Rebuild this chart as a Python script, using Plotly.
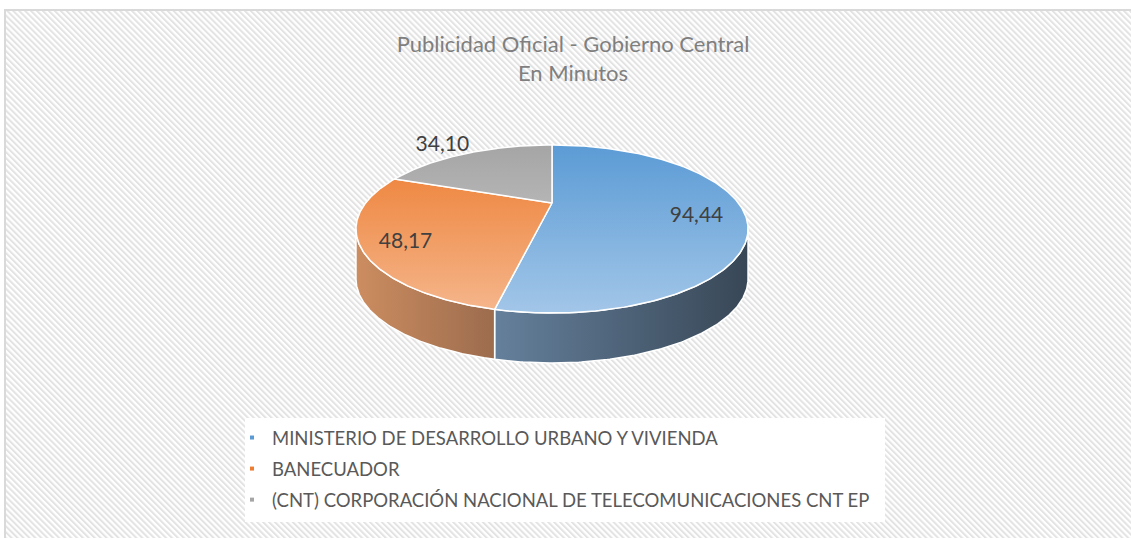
import base64
import numpy as np
import plotly.graph_objects as go

# ---- data ----
categories = [
    "MINISTERIO DE DESARROLLO URBANO Y VIVIENDA",
    "BANECUADOR",
    "(CNT) CORPORACIÓN NACIONAL DE TELECOMUNICACIONES CNT EP",
]
values = [94.44, 48.17, 34.10]
value_labels = ["94,44", "48,17", "34,10"]

# ---- style (3-D pie geometry with perspective) ----
W, H = 1131, 538
CX, CY = 552, 203          # projected pie centre (apex)
A, B, K = 186.4, 75.96, 0.3096   # half-axes and perspective strength
DEPTH = 50
top_dark = ["#5b9bd5", "#ed7d31", "#a5a5a5"]
top_light = ["#a2c6e8", "#f5b68c", "#d2d2d2"]
side_left = ["#65809c", "#cc8d60", "#8a8a8a"]
side_right = ["#384756", "#9c6c4e", "#6a6a6a"]
legend_colors = ["#5b9bd5", "#ed7d31", "#a5a5a5"]
label_factor = [0.76, 0.79, 1.4]
label_shift = 7


def proj(theta_deg, r=1.0, dy=0.0):
    t = np.radians(theta_deg)
    u, v = r * np.sin(t), r * np.cos(t)
    d = 1 + K * v
    return CX + A * u / d, CY - B * v / d + dy


total = sum(values)
spans = [v / total * 360 for v in values]
starts = np.concatenate([[0], np.cumsum(spans)[:-1]])
sil = np.degrees(np.arccos(-K))          # silhouette angle (right side)
vis_lo, vis_hi = sil, 360 - sil

top_y = proj(0.0)[1]
bot_y = proj(180.0)[1]

fig = go.Figure()

# sides (front visible part between silhouette points)
for i, (s, sp) in enumerate(zip(starts, spans)):
    a, b = max(s, vis_lo), min(s + sp, vis_hi)
    if b <= a:
        continue
    th = np.linspace(a, b, 150)
    xt, yt = proj(th)
    xb, yb = proj(th[::-1], dy=DEPTH)
    xs = np.concatenate([xt, xb, xt[:1]])
    ys = np.concatenate([yt, yb, yt[:1]])
    fig.add_trace(go.Scatter(
        x=xs, y=ys, mode="lines", fill="toself",
        line=dict(color="white", width=1.5),
        fillgradient=dict(type="horizontal",
                          colorscale=[[0, side_left[i]], [1, side_right[i]]]),
        hoverinfo="skip", showlegend=False))

# tops
for i, (s, sp) in enumerate(zip(starts, spans)):
    th = np.linspace(s, s + sp, 240)
    xt, yt = proj(th)
    xs = np.concatenate([[CX], xt, [CX]])
    ys = np.concatenate([[CY], yt, [CY]])
    fig.add_trace(go.Scatter(
        x=xs, y=ys, mode="lines", fill="toself",
        line=dict(color="white", width=1.5),
        fillgradient=dict(type="vertical", start=top_y, stop=bot_y,
                          colorscale=[[0, top_dark[i]], [1, top_light[i]]]),
        hoverinfo="skip", showlegend=False))

# data labels
lx, ly = [], []
for i, (s, sp) in enumerate(zip(starts, spans)):
    x, y = proj(s + sp / 2, r=label_factor[i], dy=label_shift)
    lx.append(x)
    ly.append(y)
fig.add_trace(go.Scatter(
    x=lx, y=ly, mode="text", text=value_labels,
    textfont=dict(family="Lato", size=21, color="#404040"),
    hoverinfo="skip", showlegend=False))

# legend entries
for i, name in enumerate(categories):
    fig.add_trace(go.Scatter(
        x=[None], y=[None], mode="markers", name=name,
        legendgroup=str(i),
        marker=dict(symbol="square", size=4, color=legend_colors[i])))

# hatched background
svg = (
    f'<svg xmlns="http://www.w3.org/2000/svg" width="{W}" height="{H}">'
    '<defs><pattern id="p" width="4.2" height="4.2" patternUnits="userSpaceOnUse" '
    'patternTransform="rotate(-45)">'
    '<rect width="4.2" height="4.2" fill="#ffffff"/>'
    '<rect width="2" height="4.2" fill="#e3e3e3"/>'
    '</pattern></defs>'
    f'<rect width="{W}" height="{H}" fill="url(#p)"/></svg>'
)
src = "data:image/svg+xml;base64," + base64.b64encode(svg.encode()).decode()

fig.update_layout(
    width=W, height=H,
    margin=dict(l=0, r=0, t=0, b=0),
    paper_bgcolor="white", plot_bgcolor="rgba(0,0,0,0)",
    xaxis=dict(range=[0, W], visible=False, fixedrange=True),
    yaxis=dict(range=[H, 0], visible=False, fixedrange=True),
    images=[dict(source=src, xref="paper", yref="paper",
                 x=5 / W, y=1 - 10 / H, sizex=1, sizey=1,
                 xanchor="left", yanchor="top", sizing="stretch",
                 layer="below")],
    shapes=[
        dict(type="rect", xref="paper", yref="paper",
             x0=5 / W, x1=1.02, y0=-0.05, y1=1 - 10 / H,
             line=dict(color="#d9d9d9", width=2), layer="below"),
        dict(type="rect", xref="x", yref="y",
             x0=245, x1=885, y0=418, y1=522,
             fillcolor="white", line=dict(width=0), layer="below"),
    ],
    title=dict(text="Publicidad Oficial - Gobierno Central<br>En Minutos",
               x=573 / W, xanchor="center", y=1 - 52 / H, yanchor="top",
               font=dict(family="Lato", size=22, color="#7f7f7f")),
    showlegend=True,
    legend=dict(x=232 / W, y=1 - 419 / H, xanchor="left", yanchor="top",
                bgcolor="rgba(0,0,0,0)", tracegroupgap=4,
                font=dict(family="Lato", size=18.5, color="#595959")),
)

fig.write_html("out.html",
               config={"displayModeBar": False, "staticPlot": True},
               post_script="document.body.style.margin='0';"
                           "document.documentElement.style.overflow='hidden';")
